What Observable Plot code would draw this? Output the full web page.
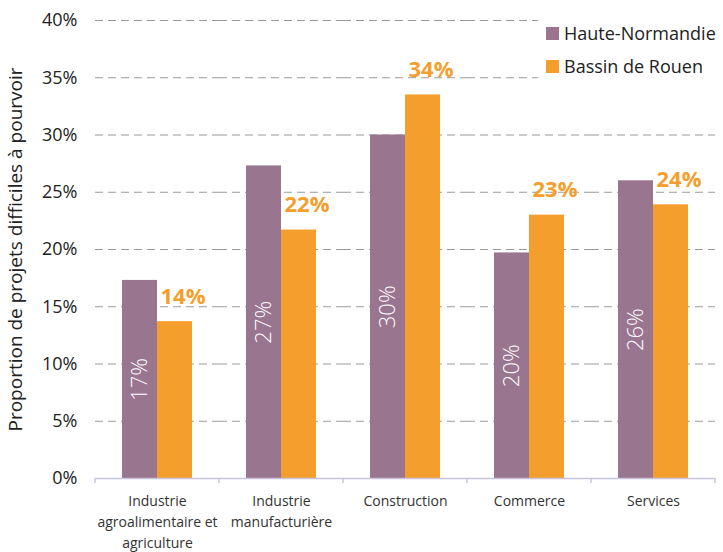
<!DOCTYPE html>
<html>
<head>
<meta charset="utf-8">
<script src="https://cdn.jsdelivr.net/npm/d3@7"></script>
<script src="https://cdn.jsdelivr.net/npm/@observablehq/plot@0.6"></script>
<style>
  html, body { margin: 0; padding: 0; background: white; }
  #wrap { position: relative; width: 723px; height: 552px; font-family: "Open Sans", sans-serif; }
  #legend { position: absolute; left: 538px; top: 10px; width: 185px; height: 70px; background: white; }
  .row { position: absolute; left: 8px; display: flex; align-items: center; font-size: 18px; font-weight: 400; color: #222; white-space: nowrap; }
  .sw { width: 13px; height: 13px; margin-right: 5px; }
</style>
</head>
<body>
<div id="wrap"></div>
<script>
const categories = ["Industrie\nagroalimentaire et\nagriculture", "Industrie\nmanufacturière", "Construction", "Commerce", "Services"];
const series = ["Haute-Normandie", "Bassin de Rouen"];
const hauteNormandie = [17.3, 27.3, 30.0, 19.7, 26.0];
const bassinRouen = [13.7, 21.7, 33.5, 23.0, 23.9];
const yTicks = [0, 5, 10, 15, 20, 25, 30, 35, 40];
const colors = ["#9a758f", "#f49f2d"];

const data = [];
categories.forEach((c, i) => {
  data.push({category: c, series: series[0], value: hauteNormandie[i]});
  data.push({category: c, series: series[1], value: bassinRouen[i]});
});
const hnData = data.filter(d => d.series === series[0]);
const brData = data.filter(d => d.series === series[1]);

const plot = Plot.plot({
  width: 723,
  height: 552,
  marginLeft: 95,
  marginRight: 8,
  marginTop: 20,
  marginBottom: 74,
  style: {fontFamily: "'Open Sans', sans-serif", background: "white", overflow: "visible"},
  fx: {domain: categories, padding: 0, label: null},
  x: {domain: series, paddingInner: 0, paddingOuter: 0.75, axis: null},
  y: {domain: [0, 40]},
  color: {domain: series, range: colors},
  marks: [
    Plot.gridY(yTicks.slice(1), {stroke: "#9a9a9a", strokeOpacity: 1, strokeDasharray: "8,5"}),
    Plot.barY(data, {fx: "category", x: "series", y: "value", fill: "series"}),
    Plot.ruleY([0], {stroke: "#c9c3dd", strokeWidth: 1.5}),
    Plot.axisY(yTicks, {
      tickSize: 0, tickPadding: 18, tickFormat: d => d + "%", fontSize: 18, fill: "#222", label: null
    }),
    Plot.axisY([], {
      tickSize: 0, fontSize: 19, fill: "#222",
      label: "Proportion de projets difficiles à pourvoir", labelAnchor: "center", labelOffset: 87, labelArrow: "none"
    }),
    Plot.axisFx({anchor: "bottom", tickSize: 0, tickPadding: 13, fontSize: 14, lineHeight: 1.5, fill: "#333", label: null}),
    Plot.text(hnData, {fx: "category", x: "series", y: d => d.value / 2, text: d => Math.round(d.value) + "%",
      rotate: -90, fill: "white", fontSize: 22, fontWeight: 300}),
    Plot.text(brData, {fx: "category", x: "series", y: "value", text: d => Math.round(d.value) + "%",
      dy: -18, dx: 8, lineAnchor: "bottom", fill: colors[1], fontSize: 22, fontWeight: "bold"})
  ]
});

const wrap = document.getElementById("wrap");
wrap.appendChild(plot);

// boundary tick marks under the baseline, derived from the fx scale
const fx = plot.scale("fx");
const ys = plot.scale("y");
const y0 = ys.apply(0);
const n = fx.domain.length;
const step = (fx.range[1] - fx.range[0]) / n;
const svg = d3.select(plot);
for (let i = 0; i <= n; i++) {
  const x = fx.range[0] + i * step;
  svg.append("line").attr("x1", x).attr("x2", x).attr("y1", y0).attr("y2", y0 + 5)
    .attr("stroke", "#c9c3dd").attr("stroke-width", 1.5);
}

// legend
const legend = document.createElement("div");
legend.id = "legend";
series.forEach((s, i) => {
  const row = document.createElement("div");
  row.className = "row";
  row.style.top = (11 + i * 33) + "px";
  row.innerHTML = `<div class="sw" style="background:${colors[i]}"></div><span>${s}</span>`;
  legend.appendChild(row);
});
wrap.appendChild(legend);
</script>
</body>
</html>
